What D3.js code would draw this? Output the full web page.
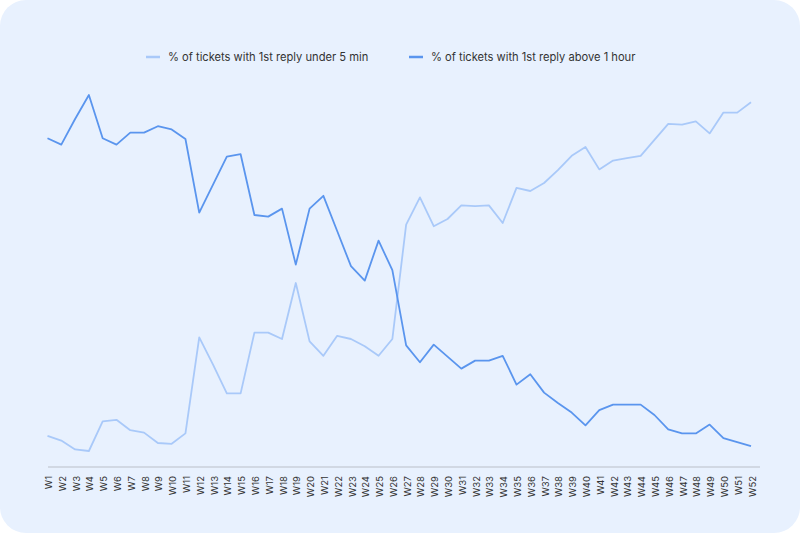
<!DOCTYPE html>
<html>
<head>
<meta charset="utf-8">
<script src="https://cdn.jsdelivr.net/npm/d3@7"></script>
<style>
  body { margin: 0; background: #fff; }
  text { font-family: Inter, Roboto, sans-serif; }
</style>
</head>
<body>
<script>
// data (% of tickets)
const weeks = d3.range(1, 53).map(i => "W" + i);
const under5min = [3.9, 3.3, 2.2, 2.0, 5.7, 5.9, 4.6, 4.3, 3.0, 2.9, 4.2, 16.2,
  12.8, 9.2, 9.2, 16.8, 16.8, 16.0, 23.0, 15.7, 13.9, 16.4, 16.0, 15.1,
  13.9, 16.0, 30.3, 33.7, 30.1, 31.0, 32.7, 32.6, 32.7, 30.5, 34.9, 34.5,
  35.5, 37.1, 38.9, 40.0, 37.2, 38.3, 38.6, 38.9, 40.9, 42.9, 42.8, 43.2,
  41.7, 44.3, 44.3, 45.6];
const above1hour = [41.1, 40.3, 43.5, 46.5, 41.1, 40.3, 41.8, 41.8, 42.6, 42.2, 41.0, 31.8,
  35.3, 38.8, 39.1, 31.5, 31.3, 32.3, 25.3, 32.3, 33.9, 29.5, 25.1, 23.3,
  28.3, 24.6, 15.2, 13.1, 15.3, 13.8, 12.3, 13.3, 13.3, 13.9, 10.3, 11.6,
  9.3, 8.0, 6.8, 5.2, 7.1, 7.8, 7.8, 7.8, 6.5, 4.7, 4.2, 4.2,
  5.3, 3.6, 3.1, 2.6];
const seriesNames = ["% of tickets with 1st reply under 5 min", "% of tickets with 1st reply above 1 hour"];
const seriesColors = ["#a9c9f9", "#5a95ee"];

const canvWidth = 800, canvHeight = 533;
const svg = d3.select("body").append("svg")
    .attr("width", canvWidth)
    .attr("height", canvHeight);

// card background
svg.append("rect")
    .attr("x", 0).attr("y", 0)
    .attr("width", canvWidth).attr("height", canvHeight)
    .attr("rx", 26).attr("ry", 26)
    .attr("fill", "#e8f1fe");

const xScale = d3.scalePoint()
    .domain(weeks)
    .range([47.5, 751]);

const yScale = d3.scaleLinear()
    .domain([0, 50])
    .range([467, 67]);

// x axis
const xAxis = d3.axisBottom(xScale).tickSize(0).tickPadding(0);
const gx = svg.append("g")
    .attr("transform", "translate(0,467)")
    .call(xAxis);
gx.select(".domain").remove();
gx.selectAll("text")
    .attr("transform", "rotate(-90)")
    .attr("x", -9)
    .attr("y", 1)
    .attr("dy", "0.32em")
    .style("text-anchor", "end")
    .attr("font-size", "9.5px")
    .attr("fill", "#333");

svg.append("line")
    .attr("x1", 48).attr("x2", 760)
    .attr("y1", 467).attr("y2", 467)
    .attr("stroke", "#babfc8")
    .attr("stroke-width", 1.2);

// lines
const line = d3.line()
    .x((d, i) => xScale(weeks[i]))
    .y(d => yScale(d));

[under5min, above1hour].forEach((vals, k) => {
    svg.append("path")
        .datum(vals)
        .attr("fill", "none")
        .attr("stroke", seriesColors[k])
        .attr("stroke-width", 1.8)
        .attr("stroke-linejoin", "round")
        .attr("d", line);
});

// legend
const legendX = [146, 409];
const legend = svg.append("g");
seriesNames.forEach((name, k) => {
    legend.append("line")
        .attr("x1", legendX[k]).attr("x2", legendX[k] + 14)
        .attr("y1", 57).attr("y2", 57)
        .attr("stroke", seriesColors[k])
        .attr("stroke-width", 2.5);
    legend.append("text")
        .attr("x", legendX[k] + 22)
        .attr("y", 57)
        .attr("dy", "0.35em")
        .attr("font-size", "11.15px")
        .attr("fill", "#333")
        .text(name);
});
</script>
</body>
</html>
